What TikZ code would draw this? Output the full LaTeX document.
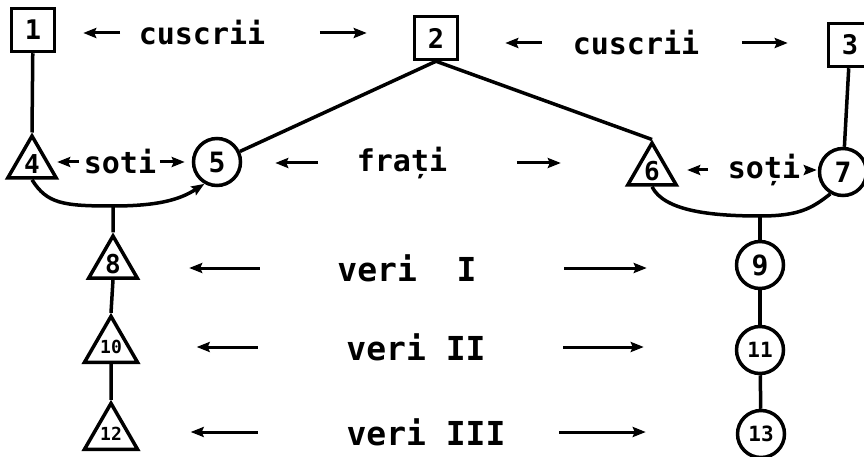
\documentclass[tikz,border=0pt]{standalone}
\usepackage{fontspec}
\newfontfamily\hand{DejaVu Sans Mono}
\usetikzlibrary{arrows.meta,shapes.geometric}
\tikzset{
  box/.style={draw, rectangle, line width=3.5pt, minimum size=43pt, inner sep=0pt, font=\hand\bfseries\fontsize{27}{27}\selectfont},
  tri/.style={draw, regular polygon, regular polygon sides=3, line width=3.5pt, minimum size=56pt, inner sep=0pt, font=\hand\bfseries\fontsize{26}{26}\selectfont},
  ring/.style={draw, circle, line width=3.5pt, minimum size=47pt, inner sep=0pt, font=\hand\bfseries\fontsize{28}{28}\selectfont},
  small/.style={font=\hand\bfseries\fontsize{21}{21}\selectfont},
  smaller/.style={font=\hand\bfseries\fontsize{18}{18}\selectfont},
  lab/.style={inner sep=0pt, font=\hand\bfseries\fontsize{30}{30}\selectfont},
  veri/.style={inner sep=0pt, font=\hand\bfseries\fontsize{33}{33}\selectfont},
  arr/.style={-{Stealth[length=13pt,width=10pt,inset=2pt]}, line width=3pt}
}
\begin{document}
\begin{tikzpicture}[x=1pt, y=-1pt, line width=3.5pt]
      \useasboundingbox (0,0) rectangle (864,457);
      \node(n1) [box] at (33,30) {1};
      \node(n2) [box] at (436,38) {2};
      \node(n3) [box] at (850,45) {3};
      \node(n4) [tri] at (32,164) {4};
      \node(n5) [ring] at (217,162) {5};
      \node(n6) [tri] at (652,171) {6};
      \node(n7) [ring] at (843,172) {7};
      \node(n8) [tri] at (113,264) {8};
      \node(n9) [ring] at (760,265) {9};
      \node(n10) [tri, smaller] at (111,347) {10};
      \node(n11) [ring, small] at (760,350) {11};
      \node(n12) [tri, smaller] at (111,434) {12};
      \node(n13) [ring, small] at (761,434) {13};
      \coordinate(m45) at (113,206);
      \coordinate(m67) at (760,216);

      \node(lab12) [lab] at (202,33) {cuscrii};
      \node(lab23) [lab] at (636,43) {cuscrii};
      \node(lab45) [lab] at (120,162) {soti};
      \node(lab56) [lab] at (402,163) {frați};
      \node(lab67) [lab] at (764,170) {soți};
      \node(lab89) [veri] at (407,268) {veri\ \ I};
      \node(lab1011) [veri] at (416,347) {veri II};
      \node(lab1213) [veri] at (426,432) {veri III};

      \draw(n1) -- (n4.north);
      \draw(n2.south) -- (n5);
      \draw(n2.south) -- (n6.north);
      \draw(n3) -- (n7);
      \draw[arr, line width=3.5pt](n4.south) .. controls +(15,24) and +(-50,0) .. (m45) .. controls +(50,0) and +(-22,14) .. (n5.-120);
      \draw(n6.south) .. controls +(12,24) and +(-50,0) .. (m67) .. controls +(40,0) and +(-18,14) .. (n7.-120);
      \draw(m45) -- (n8.north);
      \draw(n8.south) -- (n10.north);
      \draw(n10.south) -- (n12.north);
      \draw(m67) -- (n9);
      \draw(n9) -- (n11);
      \draw(n11) -- (n13);

      \draw[arr, shorten <=17pt, shorten >=27pt](lab12.west) -- (lab12.west -| n1.east);
      \draw[arr, shorten <=53pt, shorten >=46pt](lab12.east) -- (lab12.east -| n2.west);
      \draw[arr, shorten <=29pt, shorten >=46pt](lab23.west) -- (lab23.west -| n2.east);
      \draw[arr, shorten <=41pt, shorten >=39pt](lab23.east) -- (lab23.east -| n3.west);
      \draw[arr, shorten <=3pt, shorten >=7pt](lab45.west) -- (lab45.west -| n4.east);
      \draw[arr, shorten <=2pt, shorten >=7pt](lab45.east) -- (lab45.east -| n5.west);
      \draw[arr, shorten <=37pt, shorten >=33pt](lab56.west) -- (lab56.west -| n5.east);
      \draw[arr, shorten <=68pt, shorten >=73pt](lab56.east) -- (lab56.east -| n6.west);
      \draw[arr, shorten <=18pt, shorten >=17pt](lab67.west) -- (lab67.west -| n6.east);
      \draw[arr, shorten <=4pt, shorten >=1pt](lab67.east) -- (lab67.east -| n7.west);
      \draw[arr, shorten <=76pt, shorten >=58pt](lab89.west) -- (lab89.west -| n8.east);
      \draw[arr, shorten <=86pt, shorten >=88pt](lab89.east) -- (lab89.east -| n9.west);
      \draw[arr, shorten <=87pt, shorten >=66pt](lab1011.west) -- (lab1011.west -| n10.east);
      \draw[arr, shorten <=76pt, shorten >=91pt](lab1011.east) -- (lab1011.east -| n11.west);
      \draw[arr, shorten <=87pt, shorten >=60pt](lab1213.west) -- (lab1213.west -| n12.east);
      \draw[arr, shorten <=52pt, shorten >=90pt](lab1213.east) -- (lab1213.east -| n13.west);
    \end{tikzpicture}
\end{document}
